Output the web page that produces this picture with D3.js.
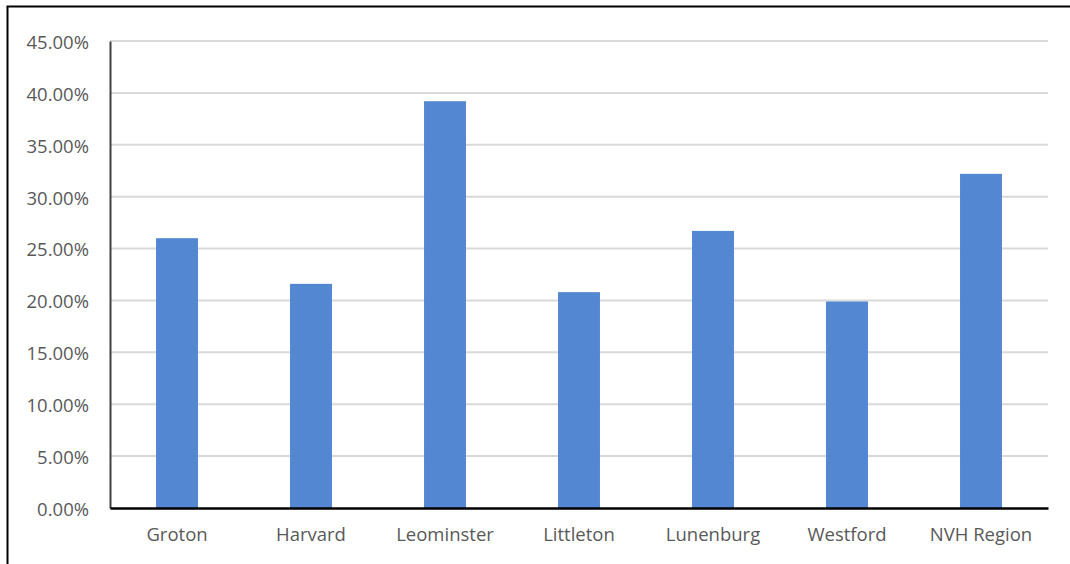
<!DOCTYPE html>
<html>
<head>
<meta charset="utf-8">
<script src="https://cdn.jsdelivr.net/npm/d3@7"></script>
<style>
  html, body { margin: 0; padding: 0; background: #fff; }
  svg { display: block; }
  .tick text { font-family: "Open Sans", Lato, sans-serif; fill: #595959; }
</style>
</head>
<body>
<svg id="chart" width="1070" height="564"></svg>
<script>
// Share of population by community
const categories = ["Groton", "Harvard", "Leominster", "Littleton", "Lunenburg", "Westford", "NVH Region"];
const values = [0.260, 0.216, 0.392, 0.208, 0.267, 0.199, 0.322];
const yTicks = [0, 0.05, 0.10, 0.15, 0.20, 0.25, 0.30, 0.35, 0.40, 0.45];

const svg = d3.select("#chart");
const W = 1070, H = 564;
const margin = { left: 110, right: 22, top: 41, bottom: 56 };

// outer frame
svg.append("path")
  .attr("d", `M7.5,${H} V6.5 H${W}`)
  .attr("fill", "none")
  .attr("stroke", "#000")
  .attr("stroke-width", 2);

const x = d3.scaleBand()
  .domain(categories)
  .range([margin.left, W - margin.right])
  .paddingInner(0.687)
  .paddingOuter(0.3435);

const y = d3.scaleLinear()
  .domain([0, 0.45])
  .range([H - margin.bottom, margin.top]);

// gridlines
svg.append("g")
  .selectAll("line")
  .data(yTicks.filter(d => d > 0))
  .join("line")
  .attr("x1", margin.left)
  .attr("x2", W - margin.right)
  .attr("y1", d => y(d))
  .attr("y2", d => y(d))
  .attr("stroke", "#d9d9d9")
  .attr("stroke-width", 2);

// bars
svg.append("g")
  .selectAll("rect")
  .data(values)
  .join("rect")
  .attr("x", (d, i) => x(categories[i]))
  .attr("width", x.bandwidth())
  .attr("y", d => y(d))
  .attr("height", d => y(0) - y(d))
  .attr("fill", "#5487d1");

// y axis
const yAxis = svg.append("g")
  .attr("transform", `translate(${margin.left},0)`)
  .call(d3.axisLeft(y).tickValues(yTicks).tickFormat(d3.format(".2%")).tickSize(0).tickPadding(21));
yAxis.select(".domain").attr("stroke", "#404040").attr("stroke-width", 2);
yAxis.selectAll(".tick text").attr("font-size", 18.5).attr("dy", "0.4em");

// x axis
const xAxis = svg.append("g")
  .attr("transform", `translate(0,${y(0)})`)
  .call(d3.axisBottom(x).tickSize(0).tickPadding(20));
xAxis.select(".domain").attr("stroke", "#000").attr("stroke-width", 2.5);
xAxis.selectAll(".tick text").attr("font-size", 18.5);
</script>
</body>
</html>
